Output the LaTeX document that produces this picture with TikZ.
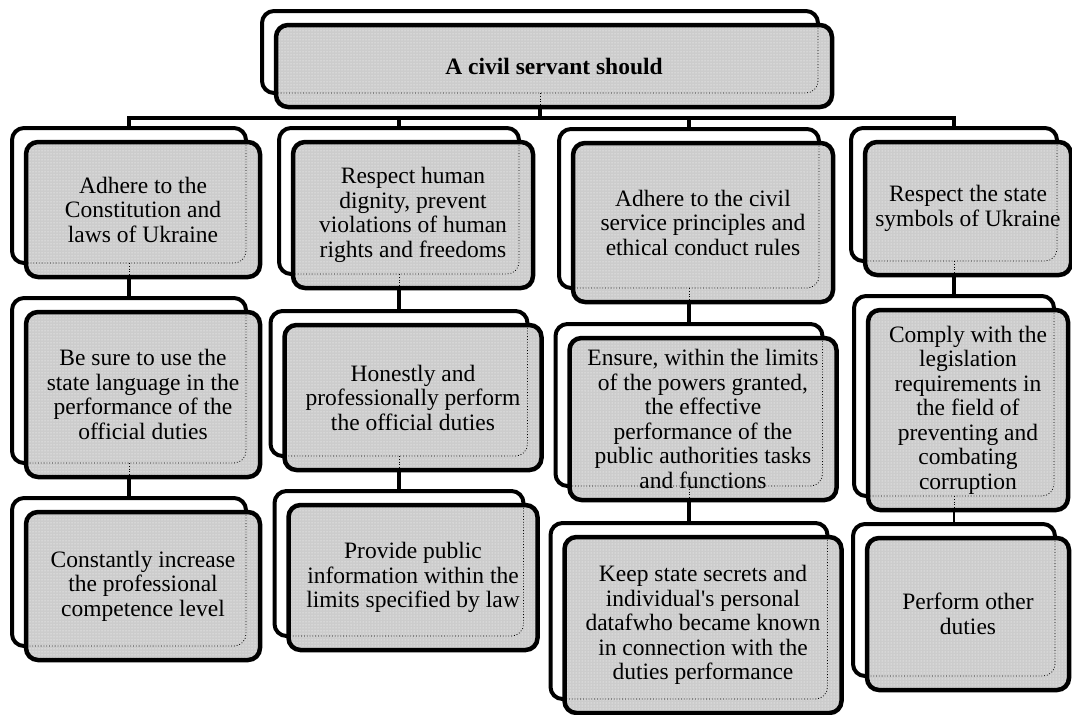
\documentclass[tikz,border=0pt]{standalone}
\usepackage{fontspec}
\setmainfont{Liberation Serif}
\usetikzlibrary{patterns}
\pgfdeclarelayer{back}
\pgfdeclarelayer{over}
\pgfsetlayers{back,main,over}

\begin{document}
\begin{tikzpicture}[
    x=1pt, y=-1pt,
    duty/.style={
        draw, line width=4.5pt, rounded corners=12pt, outer sep=0pt,
        preaction={fill=black!20},% grey card
        preaction={pattern=dots, pattern color=white},
        align=center, inner sep=2pt,
        font=\fontsize{23.5}{24.5}\selectfont
    },
    backcard/.style={draw, fill=white, line width=4pt, rounded corners=12pt},
    seen through/.style={dotted, line width=0.8pt, rounded corners=12pt},
    link/.style={line width=4.5pt},
    thin link/.style={line width=1.2pt}
]
\useasboundingbox (0,0) rectangle (1072,715);

% front cards
\node [duty, minimum width=556, minimum height=82] (top) at (554,66) {\textbf{A civil servant should}};

\node [duty, minimum width=234, minimum height=135] (c1a) at (143,209.5) {Adhere to the\\Constitution and\\laws of Ukraine};
\node [duty, minimum width=234, minimum height=165] (c1b) at (143,394.5) {Be sure to use the\\state language in the\\performance of the\\official duties};
\node [duty, minimum width=234, minimum height=148] (c1c) at (143,586) {Constantly increase\\the professional\\competence level};

\node [duty, minimum width=240, minimum height=146] (c2a) at (413,215) {Respect human\\dignity, prevent\\violations of human\\rights and freedoms};
\node [duty, minimum width=257, minimum height=145] (c2b) at (413,397.5) {Honestly and\\professionally perform\\the official duties};
\node [duty, minimum width=249, minimum height=145] (c2c) at (413,577.5) {Provide public\\information within the\\limits specified by law};

\node [duty, minimum width=260, minimum height=159] (c3a) at (703,222.5) {Adhere to the civil\\service principles and\\ethical conduct rules};
\node [duty, minimum width=267, minimum height=162] (c3b) at (703,419) {Ensure, within the limits\\of the powers granted,\\the effective\\performance of the\\public authorities tasks\\and functions};
\node [duty, minimum width=277, minimum height=176] (c3c) at (703,625) {Keep state secrets and\\individual\textquotesingle s personal\\datafwho became known\\in connection with the\\duties performance};

\node [duty, minimum width=206, minimum height=133] (c4a) at (968,208.5) {Respect the state\\symbols of Ukraine};
\node [duty, minimum width=200, minimum height=200] (c4b) at (968,410) {Comply with the\\legislation\\requirements in\\the field of\\preventing and\\combating\\corruption};
\node [duty, minimum width=202, minimum height=152] (c4c) at (968,614) {Perform other\\duties};

% back cards and links
\begin{pgfonlayer}{back}
\foreach \card in {top,c1a,c1b,c1c,c2a,c2b,c2c,c3a,c3b,c3c,c4a,c4b,c4c}
    \draw [backcard] ([shift={(-14,-14)}]\card.north west) rectangle ([shift={(-14,-14)}]\card.south east);

\coordinate (bus) at (540,118);
\draw [link] ([shift={(-14,-14)}]top.south) -- (bus);
\foreach \col in {c1a,c2a,c3a,c4a}
    \draw [link] (bus) -| ([shift={(-14,-14)}]\col.north);

\foreach \up/\down in {c1a/c1b,c1b/c1c,c2a/c2b,c2b/c2c,c3a/c3b,c3b/c3c,c4a/c4b}
    \draw [link] ([shift={(-14,-14)}]\up.south) -- ([shift={(-14,-14)}]\down.north);
\draw [thin link] ([shift={(-14,-14)}]c4b.south) -- ([shift={(-14,-14)}]c4c.north);
\end{pgfonlayer}

% back edges showing through
\begin{pgfonlayer}{over}
\foreach \card in {top,c1a,c1b,c1c,c2a,c2b,c2c,c3a,c3b,c3c,c4a,c4b,c4c}
    \draw [seen through] ([xshift=-14pt]\card.north east) -- ([shift={(-14,-14)}]\card.south east) -- ([shift={(0,-14)}]\card.south west);
\foreach \card in {top,c1a,c1b,c2a,c2b,c3a,c3b,c4a,c4b}
    \draw [dotted, line width=0.8pt] ([shift={(-14,-14)}]\card.south) -- ([xshift=-14pt]\card.south);
\end{pgfonlayer}
\end{tikzpicture}
\end{document}
